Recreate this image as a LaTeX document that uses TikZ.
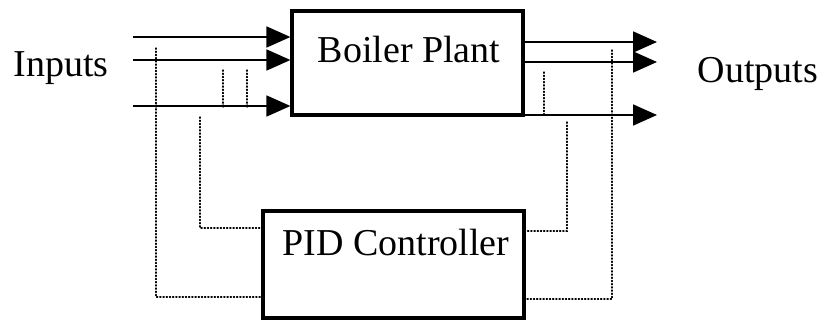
\documentclass[tikz,border=0pt]{standalone}
\usepackage{fontspec}
\setmainfont{Liberation Serif}
\usetikzlibrary{arrows.meta}
\tikzset{
  blockbox/.style={draw=black, line width=3.2pt, fill=white, inner sep=0pt},
  txt/.style={font=\fontsize{38}{44}\selectfont, inner sep=0pt, anchor=base},
  sig/.style={line width=1.8pt, -{Triangle[length=24pt,width=21pt]}},
  fb/.style={line width=1.2pt, dotted, line cap=round},
  junc/.style={circle, fill=black, inner sep=0pt, minimum size=3.5pt}
}
\begin{document}
\begin{tikzpicture}[x=1pt,y=-1pt]
\useasboundingbox (0,0) rectangle (822,321);
% blocks
\node[blockbox, minimum width=231pt, minimum height=104pt] (bp) at (407.5,63) {};
\node[txt] (bpt) at (409,63) {Boiler Plant};
\node[blockbox, minimum width=261pt, minimum height=107pt] (pid) at (393.5,264.5) {};
\node[txt] (pidt) at (396,255) {PID Controller};
% labels
\node[txt] (inl) at (61,77) {Inputs};
\node[txt] (outl) at (758,83) {Outputs};
% input signals
\coordinate (i1) at (133,37);
\coordinate (i2) at (133,60);
\coordinate (i3) at (133,106);
\draw[sig] (i1) -- (i1 -| bp.west);
\draw[sig] (i2) -- (i2 -| bp.west);
\draw[sig] (i3) -- (i3 -| bp.west);
% output signals
\coordinate (e1) at (657,42);
\coordinate (e2) at (657,62);
\coordinate (e3) at (657,115);
\draw[sig] (e1 -| bp.east) -- (e1);
\draw[sig] (e2 -| bp.east) -- (e2);
\draw[sig] (e3 -| bp.east) -- (e3);
% feedback / measurement lines, input side
\coordinate (a1) at (156,48);
\coordinate (a2) at (200,117);
\coordinate (a3) at (223,70);
\coordinate (a4) at (247,70);
\draw[fb] (a1) |- (pid.west |- 0,297);
\draw[fb] (a2) |- (pid.west |- 0,228);
\draw[fb] (a3) -- (a3 |- i3);
\draw[fb] (a4) -- (a4 |- i3);
\node[junc] (j1) at (a1 |- i2) {};
\node[junc] (j2) at (a1 |- i3) {};
\node[junc] (j3) at (a3 |- i3) {};
\node[junc] (j4) at (a4 |- i3) {};
% output side
\coordinate (b1) at (544,72);
\coordinate (b2) at (567,122);
\coordinate (b3) at (612,50);
\draw[fb] (b1) -- (b1 |- e3);
\draw[fb] (b2) |- (pid.east |- 0,231);
\draw[fb] (b3) |- (pid.east |- 0,299);
\end{tikzpicture}
\end{document}
